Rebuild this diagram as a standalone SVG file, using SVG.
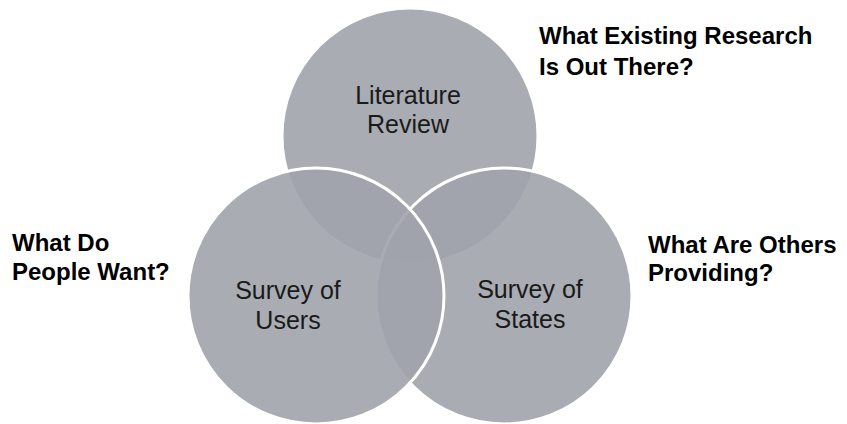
<svg xmlns="http://www.w3.org/2000/svg" width="847" height="424" viewBox="0 0 847 424">
<style>
.c{fill:#a0a3ab;fill-opacity:0.9;stroke:#ffffff;stroke-width:3}
.t{font-family:"Liberation Sans",Arial,sans-serif;font-size:25px;fill:#1a1a1a;text-anchor:middle}
.q{font-family:"Liberation Sans",Arial,sans-serif;font-size:24px;font-weight:bold;fill:#000000}
</style>
<rect width="847" height="424" fill="#ffffff"/>
<g id="literature-review">
<circle class="c" cx="410" cy="136" r="128"/>
<text class="t" x="408" y="104">Literature</text>
<text class="t" x="408" y="133">Review</text>
</g>
<g id="survey-of-states">
<circle class="c" cx="504" cy="296" r="128"/>
<text class="t" x="530" y="298">Survey of</text>
<text class="t" x="530" y="328">States</text>
</g>
<g id="survey-of-users">
<circle class="c" cx="316" cy="296" r="128"/>
<text class="t" x="288" y="299">Survey of</text>
<text class="t" x="288" y="329">Users</text>
</g>
<g id="label-research">
<text class="q" x="539" y="44">What Existing Research</text>
<text class="q" x="539" y="75">Is Out There?</text>
</g>
<g id="label-people">
<text class="q" x="12" y="251">What Do</text>
<text class="q" x="12" y="280">People Want?</text>
</g>
<g id="label-others">
<text class="q" x="648" y="253">What Are Others</text>
<text class="q" x="648" y="281">Providing?</text>
</g>
</svg>
